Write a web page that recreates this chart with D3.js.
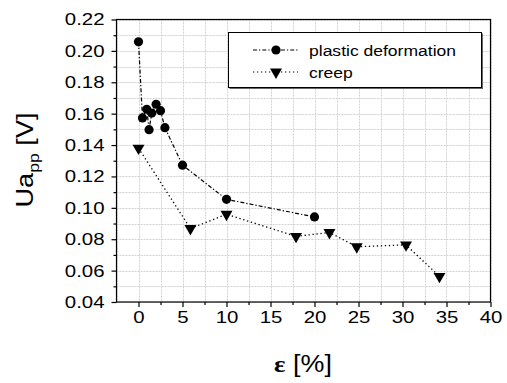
<!DOCTYPE html>
<html>
<head>
<meta charset="utf-8">
<script src="https://cdn.jsdelivr.net/npm/d3@7"></script>
<style>
  body { margin: 0; background: #fff; }
  text { font-family: "Liberation Sans", Arial, sans-serif; fill: #000; }
</style>
</head>
<body>
<div id="chart"></div>
<script>
const plasticStrain = [0, 0.45, 0.94, 1.2, 1.5, 2.0, 2.5, 3.0, 5.0, 10.0, 20.0];
const plasticUa = [0.2058, 0.1573, 0.1628, 0.1498, 0.1604, 0.1660, 0.1619, 0.1511, 0.1272, 0.1054, 0.0942];

const creepStrain = [0, 5.9, 10.0, 17.9, 21.7, 24.8, 30.4, 34.2];
const creepUa = [0.1380, 0.0868, 0.0959, 0.0818, 0.0843, 0.0752, 0.0764, 0.0563];

const xTicks = [0, 5, 10, 15, 20, 25, 30, 35, 40];
const yTicks = [0.04, 0.06, 0.08, 0.10, 0.12, 0.14, 0.16, 0.18, 0.20, 0.22];

const width = 507, height = 383;
const plotLeft = 116.5, plotRight = 490.5, plotTop = 19.5, plotBottom = 302;

// the original lettering is a little wider than Arial
function widen(sel, k) {
    sel.each(function () {
        const w = this.getComputedTextLength();
        d3.select(this)
            .attr("textLength", w * k)
            .attr("lengthAdjust", "spacingAndGlyphs");
    });
}

const svg = d3.select("#chart")
    .append("svg")
    .attr("width", width)
    .attr("height", height);

const x = d3.scaleLinear().domain([-2.5, 40]).range([plotLeft, plotRight]);
const y = d3.scaleLinear().domain([0.04, 0.22]).range([plotBottom, plotTop]);

// grid on major and minor steps
const xGrid = d3.range(-2.5, 40.01, 2.5);
const yGrid = d3.range(0.04, 0.2201, 0.01);

const grid = svg.append("g")
    .attr("stroke", "#d2d2d2")
    .attr("stroke-width", 1)
    .attr("stroke-dasharray", "2,1");

grid.selectAll("line.gx")
    .data(xGrid)
    .join("line")
    .attr("class", "gx")
    .attr("x1", d => Math.round(x(d)) + 0.5)
    .attr("x2", d => Math.round(x(d)) + 0.5)
    .attr("y1", plotTop)
    .attr("y2", plotBottom);

grid.selectAll("line.gy")
    .data(yGrid)
    .join("line")
    .attr("class", "gy")
    .attr("x1", plotLeft)
    .attr("x2", plotRight)
    .attr("y1", d => Math.round(y(d)) + 0.5)
    .attr("y2", d => Math.round(y(d)) + 0.5);

// frame
svg.append("rect")
    .attr("x", plotLeft)
    .attr("y", plotTop)
    .attr("width", plotRight - plotLeft)
    .attr("height", plotBottom - plotTop)
    .attr("fill", "none")
    .attr("stroke", "#000")
    .attr("stroke-width", 1.2);

// axes
const xAxis = svg.append("g")
    .attr("transform", `translate(0,${plotBottom})`)
    .call(d3.axisBottom(x).tickValues(xTicks).tickSize(5).tickPadding(4).tickFormat(d3.format("d")));

const xMinor = svg.append("g")
    .attr("transform", `translate(0,${plotBottom})`)
    .call(d3.axisBottom(x).tickValues(d3.range(2.5, 40, 5)).tickSize(3).tickFormat(""));

const yAxis = svg.append("g")
    .attr("transform", `translate(${plotLeft},0)`)
    .call(d3.axisLeft(y).tickValues(yTicks).tickSize(5).tickPadding(7).tickFormat(d3.format(".2f")));

const yMinor = svg.append("g")
    .attr("transform", `translate(${plotLeft},0)`)
    .call(d3.axisLeft(y).tickValues(d3.range(0.05, 0.22, 0.02)).tickSize(3).tickFormat(""));

[xAxis, xMinor, yAxis, yMinor].forEach(g => {
    g.select(".domain").remove();
    g.selectAll(".tick line").attr("stroke", "#000").attr("stroke-width", 1.2);
    g.selectAll("text")
        .attr("font-family", "Liberation Sans, Arial, sans-serif")
        .attr("font-size", 17)
        .attr("fill", "#000")
        .call(widen, 1.2);
});

// series
const plastic = plasticStrain.map((d, i) => [d, plasticUa[i]]);
const creep = creepStrain.map((d, i) => [d, creepUa[i]]);

const line = d3.line().x(d => x(d[0])).y(d => y(d[1]));

svg.append("path")
    .datum(plastic)
    .attr("d", line)
    .attr("fill", "none")
    .attr("stroke", "#000")
    .attr("stroke-width", 1.2)
    .attr("stroke-dasharray", "4,2,1.3,2");

svg.append("path")
    .datum(creep)
    .attr("d", line)
    .attr("fill", "none")
    .attr("stroke", "#000")
    .attr("stroke-width", 1.3)
    .attr("stroke-dasharray", "1.3,2.7");

svg.selectAll("circle.pt")
    .data(plastic)
    .join("circle")
    .attr("class", "pt")
    .attr("cx", d => x(d[0]))
    .attr("cy", d => y(d[1]))
    .attr("r", 4.6)
    .attr("fill", "#000");

const tri = d3.symbol().type(d3.symbolTriangle).size(62);

svg.selectAll("path.tri")
    .data(creep)
    .join("path")
    .attr("class", "tri")
    .attr("d", tri)
    .attr("transform", d => `translate(${x(d[0])},${y(d[1])}) rotate(180)`)
    .attr("fill", "#000");

// legend
const legend = svg.append("g");

legend.append("rect")
    .attr("x", 229.5)
    .attr("y", 33.5)
    .attr("width", 253.5)
    .attr("height", 55.5)
    .attr("fill", "#666");

legend.append("rect")
    .attr("x", 228.5)
    .attr("y", 32.5)
    .attr("width", 253)
    .attr("height", 55)
    .attr("fill", "#fff")
    .attr("stroke", "#000")
    .attr("stroke-width", 1);

const legendItems = [
    { label: "plastic deformation", dash: "4,2,1.3,2", y: 50 },
    { label: "creep", dash: "1.3,2.7", y: 72 }
];

legendItems.forEach((item, i) => {
    legend.append("line")
        .attr("x1", 253)
        .attr("x2", 298)
        .attr("y1", item.y)
        .attr("y2", item.y)
        .attr("stroke", "#000")
        .attr("stroke-width", 1.2)
        .attr("stroke-dasharray", item.dash);

    if (i === 0) {
        legend.append("circle")
            .attr("cx", 276)
            .attr("cy", item.y)
            .attr("r", 4.6)
            .attr("fill", "#000");
    } else {
        legend.append("path")
            .attr("d", tri)
            .attr("transform", `translate(276,${item.y}) rotate(180)`)
            .attr("fill", "#000");
    }

    legend.append("text")
        .attr("x", 309)
        .attr("y", item.y + 5.5)
        .attr("font-size", 15.5)
        .text(item.label)
        .call(widen, 1.13);
});

// axis titles
const xTitle = svg.append("text")
    .attr("transform", "translate(303,372) scale(1.12,1)")
    .attr("text-anchor", "middle")
    .attr("font-size", 24);

xTitle.append("tspan")
    .attr("font-family", "Liberation Serif, serif")
    .attr("font-weight", "bold")
    .text("ε");

xTitle.append("tspan").text(" [%]");

const yTitle = svg.append("text")
    .attr("transform", "translate(33,160) rotate(-90) scale(1.18,1)")
    .attr("text-anchor", "middle")
    .attr("font-size", 23);

yTitle.append("tspan").text("Ua");
yTitle.append("tspan").attr("font-size", 15).attr("dy", 6).text("pp");
yTitle.append("tspan").attr("dy", -6).text(" [V]");
</script>
</body>
</html>
